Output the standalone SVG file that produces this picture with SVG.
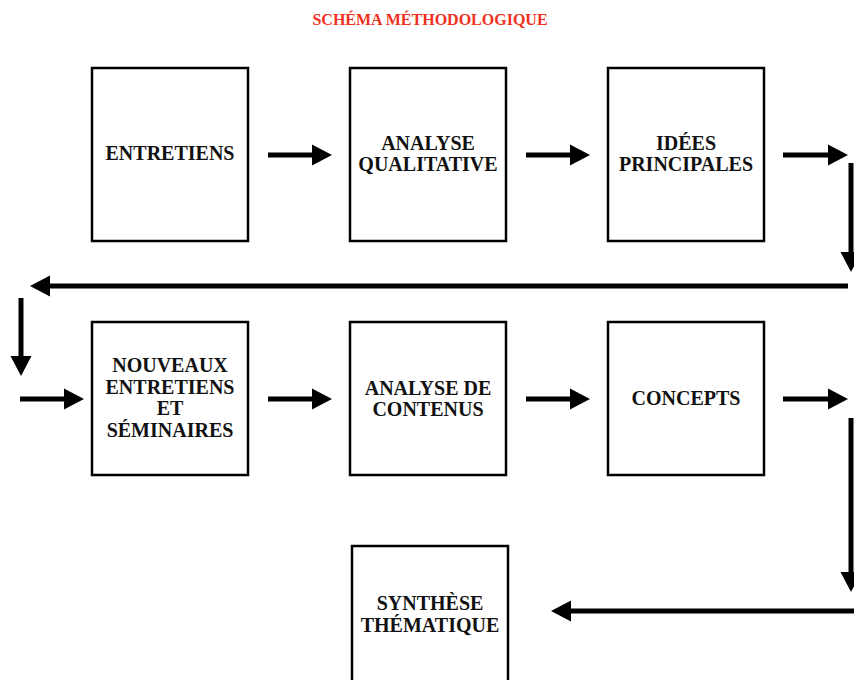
<svg xmlns="http://www.w3.org/2000/svg" width="854" height="680" viewBox="0 0 854 680">
<defs>
<style>
.box{fill:#fff;stroke:#000;stroke-width:2.5}
.lbl{font-family:"Liberation Serif","Times New Roman",serif;font-weight:bold;font-size:20px;fill:#111;text-anchor:middle}
.title{font-family:"Liberation Serif","Times New Roman",serif;font-weight:bold;font-size:16px;fill:#f0301e;text-anchor:middle}
.ln{stroke:#000;stroke-width:5;fill:none}
.arr{stroke:#000;stroke-width:5;fill:none;marker-end:url(#ah)}
</style>
<marker id="ah" markerUnits="userSpaceOnUse" markerWidth="20" markerHeight="22" refX="0" refY="10.5" orient="auto" viewBox="0 0 20 21">
<path d="M0,0 L20,10.5 L0,21 z" fill="#000"/>
</marker>
</defs>
<rect width="854" height="680" fill="#fff"/>
<text class="title" x="430" y="25">SCHÉMA MÉTHODOLOGIQUE</text>

<g id="n1"><rect class="box" x="92" y="68" width="156" height="173"/><text class="lbl" x="170" y="160">ENTRETIENS</text></g>
<g id="n2"><rect class="box" x="350" y="68" width="156" height="173"/><text class="lbl" x="428" y="150">ANALYSE</text><text class="lbl" x="428" y="171">QUALITATIVE</text></g>
<g id="n3"><rect class="box" x="608" y="68" width="156" height="173"/><text class="lbl" x="686" y="150">IDÉES</text><text class="lbl" x="686" y="171">PRINCIPALES</text></g>
<g id="n4"><rect class="box" x="92" y="322" width="156" height="153"/><text class="lbl" x="170" y="372">NOUVEAUX</text><text class="lbl" x="170" y="394">ENTRETIENS</text><text class="lbl" x="170" y="415">ET</text><text class="lbl" x="170" y="437">SÉMINAIRES</text></g>
<g id="n5"><rect class="box" x="350" y="322" width="156" height="153"/><text class="lbl" x="428" y="395">ANALYSE DE</text><text class="lbl" x="428" y="416">CONTENUS</text></g>
<g id="n6"><rect class="box" x="608" y="322" width="156" height="153"/><text class="lbl" x="686" y="405">CONCEPTS</text></g>
<g id="n7"><rect class="box" x="352" y="546" width="156" height="150"/><text class="lbl" x="430" y="610">SYNTHÈSE</text><text class="lbl" x="430" y="632">THÉMATIQUE</text></g>

<g id="connectors">
<line class="arr" x1="268" y1="155" x2="312" y2="155"/>
<line class="arr" x1="526" y1="155" x2="570" y2="155"/>
<line class="arr" x1="783" y1="155" x2="828" y2="155"/>
<line class="arr" x1="851" y1="163" x2="851" y2="252"/>
<line class="arr" x1="848" y1="286" x2="50" y2="286"/>
<line class="arr" x1="21" y1="298" x2="21" y2="356"/>
<line class="arr" x1="20" y1="399" x2="64" y2="399"/>
<line class="arr" x1="268" y1="399" x2="312" y2="399"/>
<line class="arr" x1="526" y1="399" x2="570" y2="399"/>
<line class="arr" x1="783" y1="399" x2="828" y2="399"/>
<line class="arr" x1="851" y1="418" x2="851" y2="572"/>
<line class="arr" x1="854" y1="611" x2="571" y2="611"/>
</g>
</svg>
